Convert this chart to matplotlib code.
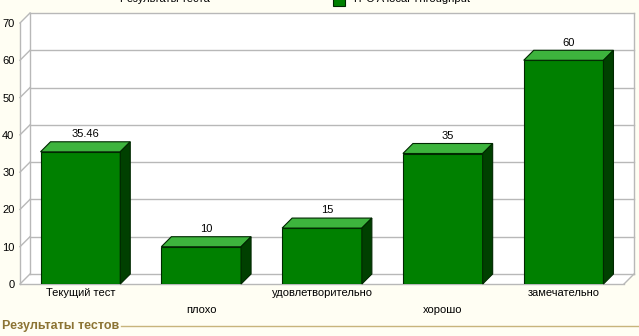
import matplotlib
matplotlib.use("Agg")
import matplotlib.pyplot as plt
from matplotlib.patches import Polygon, Rectangle
from matplotlib.lines import Line2D

plt.rcParams['font.family'] = ['Liberation Sans', 'DejaVu Sans']

# Data
categories = ['Текущий тест', 'плохо', 'удовлетворительно', 'хорошо', 'замечательно']
values = [35.46, 10, 15, 35, 60]
y_ticks = [0, 10, 20, 30, 40, 50, 60, 70]
chart_title = 'Результаты теста'
series_name = 'TPC A local Throughput'
panel_title = 'Результаты тестов'

# Colours
bg = '#FFFEF3'
front = '#008000'
top = '#3DB43D'
side = '#004000'
edge = '#002800'
grid = '#B8B8B8'

W, H = 639, 336
fig = plt.figure(figsize=(W / 100, H / 100), dpi=100)
fig.patch.set_facecolor(bg)

# front plane of the pseudo-3D box
ax_l, ax_b, ax_w, ax_h = 20, 52, 604, 261
ax = fig.add_axes([ax_l / W, ax_b / H, ax_w / W, ax_h / H])
ax.set_facecolor('none')
xmin, xmax = -0.5, len(categories) - 0.5
ymax = 70
ax.set_xlim(xmin, xmax)
ax.set_ylim(0, ymax)

# depth of 10 px converted to data units
ddx = 10 / ax_w * (xmax - xmin)
ddy = 10 / ax_h * ymax

# walls
wall_kw = dict(facecolor='white', edgecolor='none', zorder=0, clip_on=False)
ax.add_patch(Polygon([(xmin + ddx, ddy), (xmax + ddx, ddy), (xmax + ddx, ymax + ddy),
                      (xmin + ddx, ymax + ddy)], **wall_kw))
ax.add_patch(Polygon([(xmin, 0), (xmin + ddx, ddy), (xmin + ddx, ymax + ddy), (xmin, ymax)], **wall_kw))
ax.add_patch(Polygon([(xmin, 0), (xmax, 0), (xmax + ddx, ddy), (xmin + ddx, ddy)], **wall_kw))

line_kw = dict(color=grid, lw=1, zorder=1, clip_on=False)
for v in y_ticks:
    ax.plot([xmin, xmin + ddx], [v, v + ddy], **line_kw)
    ax.plot([xmin + ddx, xmax + ddx], [v + ddy, v + ddy], **line_kw)
ax.plot([xmin + ddx, xmin + ddx], [ddy, ymax + ddy], **line_kw)
ax.plot([xmax + ddx, xmax + ddx], [ddy, ymax + ddy], **line_kw)
ax.plot([xmax, xmax + ddx], [0, ddy], **line_kw)

# bars
bw = 0.66
xs = list(range(len(categories)))
ax.bar(xs, values, width=bw, color=front, edgecolor=edge, linewidth=0.8, zorder=3)
for x, v in zip(xs, values):
    l, r = x - bw / 2, x + bw / 2
    ax.add_patch(Polygon([(l, v), (r, v), (r + ddx, v + ddy), (l + ddx, v + ddy)],
                         facecolor=top, edgecolor=edge, lw=0.8, zorder=3, clip_on=False))
    ax.add_patch(Polygon([(r, 0), (r + ddx, ddy), (r + ddx, v + ddy), (r, v)],
                         facecolor=side, edgecolor=edge, lw=0.8, zorder=3, clip_on=False))
    ax.annotate(f'{v:g}', (x + ddx / 2, v + ddy), xytext=(0, 2), textcoords='offset points',
                ha='center', va='bottom', fontsize=8, color='black')

# axes styling
for s in ['top', 'right']:
    ax.spines[s].set_visible(False)
for s in ['left', 'bottom']:
    ax.spines[s].set_color(grid)
    ax.spines[s].set_linewidth(1)
ax.set_yticks(y_ticks)
ax.set_xticks(xs)
labels = [c if i % 2 == 0 else '\n' + c for i, c in enumerate(categories)]
ax.set_xticklabels(labels, fontsize=8, linespacing=1.8)
ax.tick_params(axis='both', length=0, labelsize=8)
ax.tick_params(axis='y', pad=4)
ax.tick_params(axis='x', pad=3)

# header (cut off at the top edge, as in the source)
fig.text(165 / W, 1.003, chart_title, ha='center', va='center', fontsize=8)
fig.patches.append(Rectangle((333 / W, (H - 6) / H), 12 / W, 12 / H, transform=fig.transFigure,
                             facecolor=front, edgecolor=edge, lw=0.8))
fig.text(352 / W, 1.003, series_name, ha='left', va='center', fontsize=8)

# panel caption
fig.text(2 / W, (H - 326) / H, panel_title, ha='left', va='center', fontsize=9,
         fontweight='bold', color='#8C7434')
fig.lines.append(Line2D([121 / W, 1], [(H - 326) / H] * 2, transform=fig.transFigure,
                        color='#C8B47C', lw=1))

fig.savefig('out.png', dpi=100, facecolor=fig.get_facecolor())
